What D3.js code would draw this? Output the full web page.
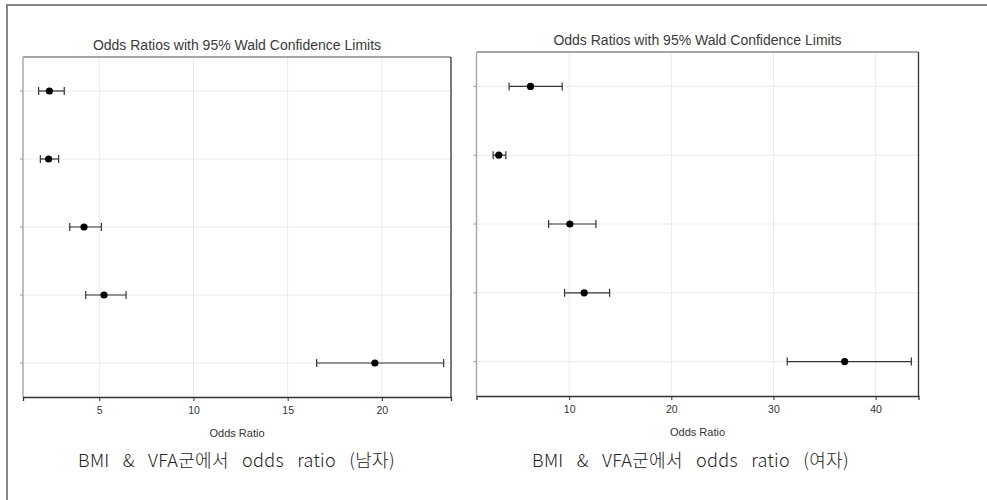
<!DOCTYPE html>
<html><head><meta charset="utf-8">
<script src="https://cdn.jsdelivr.net/npm/d3@7"></script>
<style>html,body{margin:0;padding:0;background:#fff;}svg{display:block;}</style>
</head><body>
<svg id="chart" width="987" height="500"></svg>
<script>
// ---- data ----
const categories = ["r1", "r2", "r3", "r4", "r5"];
const maleOR    = [2.35, 2.31, 4.19, 5.25, 19.63];
const maleLower = [1.78, 1.87, 3.43, 4.28, 16.54];
const maleUpper = [3.14, 2.84, 5.11, 6.42, 23.28];
const femaleOR    = [6.22, 3.11, 10.07, 11.47, 36.97];
const femaleLower = [4.12, 2.56, 7.99, 9.55, 31.35];
const femaleUpper = [9.32, 3.80, 12.62, 13.96, 43.5];
const maleTicks = [5, 10, 15, 20];
const femaleTicks = [10, 20, 30, 40];
const maleDomain = [0.95, 23.67];
const femaleDomain = [0.93, 44.2];
const plotTitle = "Odds Ratios with 95% Wald Confidence Limits";
const xLabel = "Odds Ratio";
const maleCaption = "BMI & VFA군에서 odds ratio (남자)";
const femaleCaption = "BMI & VFA군에서 odds ratio (여자)";

const svg = d3.select("#chart");
// outer frame
svg.append("path").attr("d", "M7,500 V5 H987").attr("fill", "none")
  .attr("stroke", "#888").attr("stroke-width", 2);

function drawPanel(cfg) {
  const g = svg.append("g");
  const x = d3.scaleLinear().domain(cfg.domain).range([cfg.left, cfg.right]);
  const y = d3.scaleBand().domain(categories).range([cfg.top, cfg.bottom]).padding(0);
  const rows = categories.map((c, i) => ({c, or: cfg.or[i], lo: cfg.lo[i], hi: cfg.hi[i]}));

  // gridlines
  g.append("g").selectAll("line.v").data(cfg.ticks).join("line")
    .attr("x1", d => x(d)).attr("x2", d => x(d))
    .attr("y1", cfg.top).attr("y2", cfg.bottom)
    .attr("stroke", "#ebebeb").attr("stroke-width", 1);
  g.append("g").selectAll("line.h").data(categories).join("line")
    .attr("x1", cfg.left).attr("x2", cfg.right)
    .attr("y1", d => y(d) + y.bandwidth() / 2).attr("y2", d => y(d) + y.bandwidth() / 2)
    .attr("stroke", "#ebebeb").attr("stroke-width", 1);

  // frame
  g.append("line").attr("x1", cfg.left).attr("x2", cfg.right).attr("y1", cfg.top).attr("y2", cfg.top)
    .attr("stroke", "#8a8a8a").attr("stroke-width", 1.5);
  g.append("line").attr("x1", cfg.left).attr("x2", cfg.left).attr("y1", cfg.top).attr("y2", cfg.bottom)
    .attr("stroke", "#aaa").attr("stroke-width", 1.5);
  g.append("line").attr("x1", cfg.right).attr("x2", cfg.right).attr("y1", cfg.top).attr("y2", cfg.bottom)
    .attr("stroke", "#333").attr("stroke-width", 1.3);

  // x axis
  const ax = g.append("g").attr("transform", `translate(0,${cfg.bottom})`)
    .call(d3.axisBottom(x).tickValues(cfg.ticks).tickSize(4).tickPadding(6).tickFormat(d3.format("d")));
  ax.select(".domain").attr("stroke", "#333").attr("stroke-width", 1.3);
  ax.selectAll(".tick line").attr("stroke", "#333");
  ax.selectAll(".tick text").attr("fill", "#333").attr("font-family", "Liberation Sans, Arial, sans-serif")
    .attr("font-size", 10.5);

  // y axis (unlabeled)
  const ay = g.append("g").attr("transform", `translate(${cfg.left},0)`)
    .call(d3.axisLeft(y).tickSize(3).tickFormat(() => ""));
  ay.select(".domain").remove();
  ay.selectAll(".tick line").attr("stroke", "#999");

  // error bars
  const eb = g.append("g").selectAll("g").data(rows).join("g")
    .attr("transform", d => `translate(0,${y(d.c) + y.bandwidth() / 2})`);
  eb.append("line").attr("x1", d => x(d.lo)).attr("x2", d => x(d.hi)).attr("y1", 0).attr("y2", 0)
    .attr("stroke", "#333").attr("stroke-width", 1.2);
  eb.append("line").attr("x1", d => x(d.lo)).attr("x2", d => x(d.lo)).attr("y1", -4).attr("y2", 4)
    .attr("stroke", "#333").attr("stroke-width", 1.2);
  eb.append("line").attr("x1", d => x(d.hi)).attr("x2", d => x(d.hi)).attr("y1", -4).attr("y2", 4)
    .attr("stroke", "#333").attr("stroke-width", 1.2);
  eb.append("circle").attr("cx", d => x(d.or)).attr("cy", 0).attr("r", 3.6).attr("fill", "#000");

  const cx = (cfg.left + cfg.right) / 2;
  g.append("text").attr("x", cx).attr("y", cfg.top - 7).attr("text-anchor", "middle")
    .attr("font-family", "Liberation Sans, Arial, sans-serif").attr("font-size", 14).attr("fill", "#3a3a3a")
    .text(plotTitle);
  g.append("text").attr("x", cx).attr("y", cfg.bottom + 40).attr("text-anchor", "middle")
    .attr("font-family", "Liberation Sans, Arial, sans-serif").attr("font-size", 11).attr("fill", "#333")
    .text(xLabel);
  g.append("text").attr("x", cfg.captionX).attr("y", 467).attr("text-anchor", "middle")
    .attr("font-family", "Noto Sans CJK KR, sans-serif").attr("font-size", 18).attr("fill", "#222")
    .attr("font-weight", 300).attr("word-spacing", 9).attr("letter-spacing", 0.3)
    .text(cfg.caption);
}

drawPanel({left: 23, right: 451, top: 57, bottom: 397, domain: maleDomain, ticks: maleTicks,
  or: maleOR, lo: maleLower, hi: maleUpper, caption: maleCaption, captionX: 236.5});
drawPanel({left: 476.5, right: 918.5, top: 52, bottom: 396, domain: femaleDomain, ticks: femaleTicks,
  or: femaleOR, lo: femaleLower, hi: femaleUpper, caption: femaleCaption, captionX: 690.5});
</script>
</body></html>
